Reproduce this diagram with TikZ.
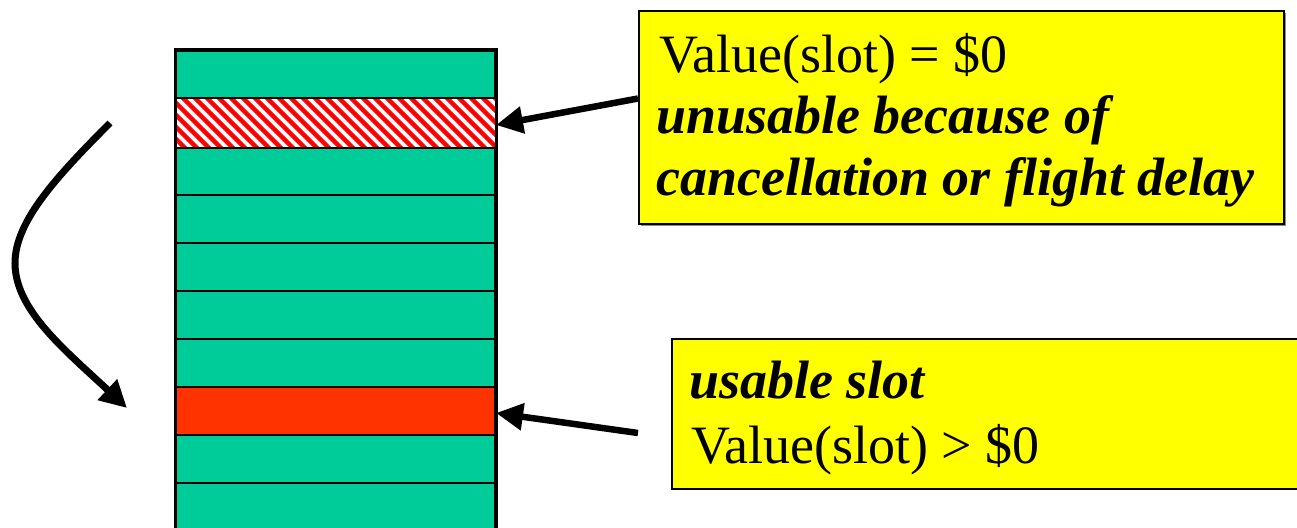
\documentclass[tikz,border=0pt]{standalone}
\usepackage{fontspec}
\setmainfont{Liberation Serif}
\usetikzlibrary{arrows.meta}
\definecolor{slotgreen}{RGB}{0,204,153}
\definecolor{slotred}{RGB}{255,51,0}
\definecolor{noteyellow}{RGB}{255,255,0}
\tikzset{
  slot/.style={draw=black, line width=2pt, fill=slotgreen, minimum width=319pt,
    minimum height=48pt, inner sep=0pt, anchor=north west},
  usedslot/.style={slot, fill=slotred},
  note/.style={draw=black, line width=2pt, fill=noteyellow, inner sep=0pt, anchor=north west},
  shade/.style={fill=black!45, draw=none},
  txt/.style={anchor=base west, inner sep=0pt, font=\fontsize{54}{62}\selectfont},
  emph/.style={txt, font=\fontsize{54}{62}\selectfont\bfseries\itshape},
  pointer/.style={line width=6.5pt, -{Triangle[length=27pt,width=26pt]}},
}
\begin{document}
\begin{tikzpicture}[x=1pt, y=-1pt]
\useasboundingbox (0,0) rectangle (1297,527);

% stack of slots
\node[slot] (s0) at (175,50) {};
\node[slot] (cancel) at (175,98) {};
\node[slot] (s2) at (175,146) {};
\node[slot] (s3) at (175,194) {};
\node[slot] (s4) at (175,242) {};
\node[slot] (s5) at (175,290) {};
\node[slot] (s6) at (175,338) {};
\node[usedslot] (usable) at (175,386) {};
\node[slot] (s8) at (175,434) {};
\node[slot] (s9) at (175,482) {};

% red stripes over the cancelled slot
\begin{scope}
  \clip (cancel.north west) rectangle (cancel.south east);
  \fill[white] (cancel.north west) rectangle (cancel.south east);
  \foreach \k in {-6,...,30} {
    \draw[red, line width=4.5pt] (175+\k*12,90) -- (175+\k*12+64,154);
  }
\end{scope}
\draw[line width=2pt] (cancel.north west) rectangle (cancel.south east);
% heavier outline of the whole stack
\draw[line width=3pt] (s9.south west) -- (s0.north west) -- (s0.north east) -- (s9.south east);

% note boxes with drop shadows
\fill[shade] (641,13) rectangle (1286,226);
\node[note, minimum width=645pt, minimum height=213pt] (box1) at (638,10) {};
\fill[shade] (673,341) rectangle (1310,490);
\node[note, minimum width=640pt, minimum height=150pt] (box2) at (671,338) {};

\node[txt] (t1) at (659,72) {Value(slot) = \$0};
\node[emph] (t2) at (656,133) {unusable because of};
\node[emph] (t3) at (656,195) {cancellation or flight delay};
\node[emph] (t4) at (689,398) {usable slot};
\node[txt] (t5) at (691,463) {Value(slot) > \$0};

% pointers
\draw[pointer] ([yshift=19pt]box1.west) -- ([yshift=-2pt]cancel.east);
\coordinate (p2) at (638,433);
\draw[pointer] (p2) -- ([yshift=-2pt]usable.east);

% curved arrow beside the stack
\coordinate (c0) at (110,123);
\coordinate (c1) at (15,263);
\coordinate (c2) at (127,408);
\draw[line width=7pt, -{Triangle[length=27pt,width=27pt]}]
  (c0) .. controls (55,178) and (15,222) .. (c1)
       .. controls (15,310) and (65,350) .. (c2);
\end{tikzpicture}
\end{document}
